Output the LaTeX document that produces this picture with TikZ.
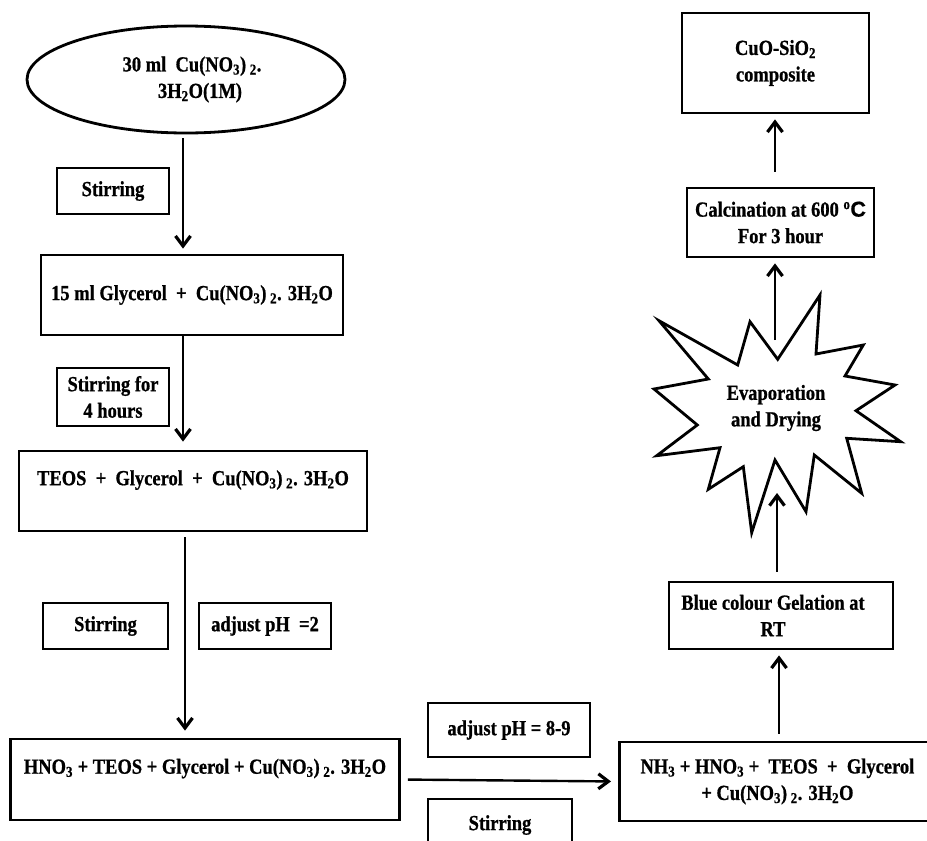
\documentclass[tikz,border=0pt]{standalone}
\usepackage{fontspec}
\setmainfont{Liberation Serif}[FakeStretch=0.86, BoldFeatures={FakeBold=0.8}]
\newfontfamily\degsans{Liberation Sans}[BoldFeatures={FakeBold=0.8}]
\usetikzlibrary{arrows.meta,shapes.geometric,calc}
\begin{document}
\begin{tikzpicture}[x=1pt,y=-1pt,
  every node/.style={font={\fontsize{21.5}{26.5}\selectfont\bfseries}, align=center},
  box/.style={draw, line width=2.8pt, inner sep=0pt},
  arr/.style={line width=2.4pt, -{Straight Barb[length=10pt,width=15pt,line width=3.2pt]}}]
\useasboundingbox (0,0) rectangle (927,841);
\clip (0,0) rectangle (927,841);

% left column
\node[box, ellipse, minimum width=318pt, minimum height=107pt] (ell) at (186,79.5)
  {\hspace*{12pt}30 ml~~Cu(NO\textsubscript{3})\,\textsubscript{2}.\\ \hspace*{28pt}3H\textsubscript{2}O(1M)};
\node[box, minimum width=112pt, minimum height=46pt] (s1) at (113,191) {Stirring};
\node[box, minimum width=302pt, minimum height=80pt] (b2) at (192,295)
  {15 ml Glycerol~~+~~Cu(NO\textsubscript{3})\,\textsubscript{2}. 3H\textsubscript{2}O};
\node[box, minimum width=112pt, minimum height=58pt] (s2) at (113,397) {Stirring for\\4 hours};
\node[box, minimum width=348pt, minimum height=80pt] (b3) at (193,491)
  {TEOS~~+~~Glycerol~~+~~Cu(NO\textsubscript{3})\,\textsubscript{2}. 3H\textsubscript{2}O\\ ~};
\node[box, minimum width=125pt, minimum height=46pt] (s3) at (105.5,626) {Stirring};
\node[box, minimum width=132pt, minimum height=46pt] (ph2) at (265,626) {adjust pH~~=2};
\node[box, minimum width=389pt, minimum height=81pt] (b4) at (205,779.5)
  {HNO\textsubscript{3} + TEOS + Glycerol + Cu(NO\textsubscript{3})\,\textsubscript{2}. 3H\textsubscript{2}O\\ ~};

% bottom middle
\node[box, minimum width=162pt, minimum height=54pt] (ph8) at (509,730) {adjust pH = 8-9};
\node[box, minimum width=144pt, minimum height=52pt] (s4) at (500,825) {Stirring};

% right column
\node[box, anchor=west, minimum height=79pt] (b5) at (618,781.5)
  {\parbox{316pt}{\centering NH\textsubscript{3} + HNO\textsubscript{3} +~~TEOS~~+~~Glycerol\\+ Cu(NO\textsubscript{3})\,\textsubscript{2}. 3H\textsubscript{2}O}\hspace*{40pt}};
\node[box, minimum height=67pt] (blue) at (781,615.5)
  {\parbox{208pt}{\centering Blue colour Gelation at\\RT}\hspace*{16pt}};
\draw[line width=2.8pt, line join=miter]
  (777.7,359.3) -- (820,295) -- (816,354) -- (863.3,345) -- (845,376) -- (895,385)
  -- (856,410.7) -- (900.7,441.7) -- (846.7,438.3) -- (861.7,493.3) -- (814.3,455)
  -- (806,511.7) -- (775,460) -- (751.7,532.7) -- (743.3,466.7) -- (708.3,489.3)
  -- (720,447.7) -- (656.7,455.7) -- (697.3,425) -- (654,389) -- (708.3,379)
  -- (659,320.7) -- (737.7,365) -- (750,321.7) -- cycle;
\node (star) at (776,408) {Evaporation\\and Drying};
\coordinate (starbot) at (777,493);
\coordinate (startop) at (775,340);
\node[box, minimum width=187pt, minimum height=69pt] (calc) at (780.5,222.5)
  {Calcination at 600 \textsuperscript{o}{\degsans C}\\For 3 hour};
\node[box, minimum width=187pt, minimum height=100pt] (cuo) at (775.5,63)
  {CuO-SiO\textsubscript{2}\\composite};

% connectors
\draw[arr, shorten <=4pt, shorten >=5pt] (ell.south -| 183,0) -- (b2.north -| 183,0);
\draw[arr, shorten >=8pt] (b2.south -| 183,0) -- (b3.north -| 183,0);
\draw[arr, shorten <=5pt, shorten >=7pt] (b3.south -| 185,0) -- (b4.north -| 185,0);
\draw[arr, shorten <=7pt, shorten >=7pt] (b4.east) -- (b5.west);
\draw[arr, shorten <=7pt, shorten >=5pt] (b5.north -| 779,0) -- (blue.south -| 779,0);
\draw[arr, shorten <=9pt] (blue.north -| 777,0) -- (starbot);
\draw[arr, shorten >=5pt] (startop) -- (calc.south -| 775,0);
\draw[arr, shorten <=15pt, shorten >=5pt] (calc.north -| 775,0) -- (cuo.south -| 775,0);
\end{tikzpicture}
\end{document}
